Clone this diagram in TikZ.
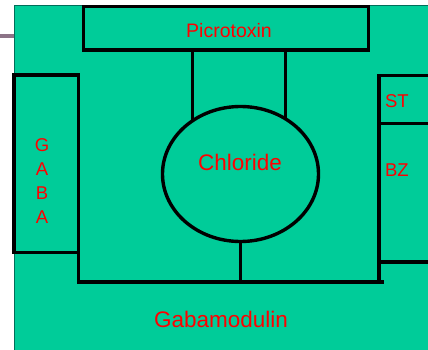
\documentclass[tikz,border=0pt]{standalone}
\usepackage{fontspec}
\setmainfont{Liberation Sans}
\usetikzlibrary{shapes.geometric}
\definecolor{bggreen}{RGB}{0,204,153}
\definecolor{edgeteal}{RGB}{0,110,90}
\definecolor{stubmauve}{RGB}{140,115,135}
\definecolor{lblred}{RGB}{255,0,0}
\tikzset{
  part/.style={draw=black, line width=3.4pt, fill=bggreen, inner sep=0pt, outer sep=0pt, rectangle},
  wire/.style={draw=black, line width=3.4pt},
  lbl/.style={text=lblred, inner sep=0pt, outer sep=0pt, font=\fontsize{18.5}{22}\selectfont},
  biglbl/.style={lbl, font=\fontsize{22.5}{27}\selectfont},
}
\begin{document}
\begin{tikzpicture}[x=1pt,y=-1pt]
\useasboundingbox (0,0) rectangle (428,350);
\clip (0,0) rectangle (428,350);
\fill[white] (0,0) rectangle (428,350);
\draw[stubmauve, line width=4pt] (0,36.3) -- (14,36.3);
\filldraw[fill=bggreen, draw=edgeteal, line width=1pt] (14,6) rectangle (440,360);

% parts
\node[part, minimum width=285pt, minimum height=43.5pt] (picro) at (226,28.25) {};
\node[part, minimum width=64.5pt, minimum height=177.5pt] (gaba) at (46.25,163.75) {};
\node[part, minimum width=55pt, minimum height=48pt] (st) at (406.5,99.5) {};
\node[part, minimum width=55pt, minimum height=138.5pt] (bz) at (406.5,192.75) {};
\node[part, ellipse, minimum width=156pt, minimum height=135pt] (chl) at (240.5,174) {};
\coordinate (baseend) at (384,282);

% connectors
\draw[wire] (picro.south -| chl.132.5) -- (chl.132.5);
\draw[wire] (picro.south -| chl.51.2) -- (chl.51.2);
\draw[wire] (chl.south) -- (chl.south |- baseend);
\draw[wire] (gaba.south east) |- (baseend);
\draw[wire] (st.north west) -- (st.north west |- baseend);

% labels
\node[lbl, font=\fontsize{19.5}{24}\selectfont, anchor=base] (tpicro) at (229,37.7) {Picrotoxin};
\node[biglbl, anchor=base] (tchl) at (240,170) {Chloride};
\node[biglbl, anchor=base] (tgab) at (221,327) {Gabamodulin};
\node[lbl, anchor=base west] (tst) at (385,107.7) {ST};
\node[lbl, anchor=base west] (tbz) at (385,176) {BZ};
\node[lbl, anchor=base] (ga1) at (42,151) {G};
\node[lbl, anchor=base] (ga2) at (42,175) {A};
\node[lbl, anchor=base] (ga3) at (42,199.3) {B};
\node[lbl, anchor=base] (ga4) at (42,223) {A};
\end{tikzpicture}
\end{document}
